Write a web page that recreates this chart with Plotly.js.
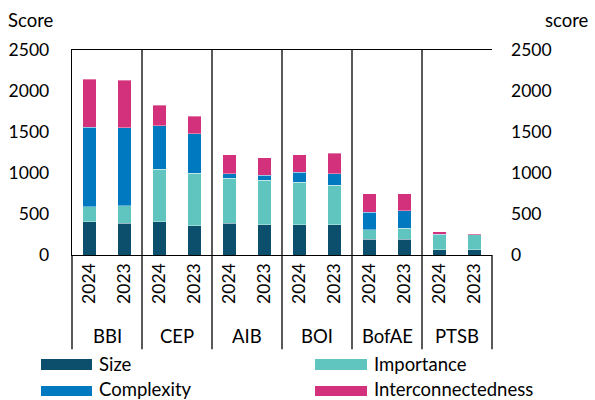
<!DOCTYPE html>
<html>
<head>
<meta charset="utf-8">
<script src="https://cdn.plot.ly/plotly-3.0.1.min.js"></script>
<style>html,body{margin:0;padding:0;background:#fff;}#chart{width:595px;height:400px;}</style>
</head>
<body>
<div id="chart"></div>
<script>
const groups = ["BBI", "CEP", "AIB", "BOI", "BofAE", "PTSB"];
const years = ["2024", "2023"];
const seriesNames = ["Size", "Importance", "Complexity", "Interconnectedness"];
const size = [406, 387, 408, 359, 387, 371, 371, 371, 191, 191, 65, 65];
const importance = [183, 216, 636, 636, 547, 542, 514, 477, 119, 135, 183, 180];
const complexity = [967, 947, 530, 481, 57, 58, 126, 143, 211, 213, 8, 5];
const interconnectedness = [590, 580, 250, 217, 233, 216, 213, 249, 229, 211, 29, 11];
const yTicks = [0, 500, 1000, 1500, 2000, 2500];
const colors = ["#0b4f6c", "#60c5bf", "#0079c1", "#d3317b"];

const seriesValues = [size, importance, complexity, interconnectedness];
const xLabels = [];
groups.forEach(() => years.forEach(y => xLabels.push(y)));
const xPos = xLabels.map((_, i) => i);

const FONT = "Lato, 'Open Sans', sans-serif";
const TXT = 18.5;
const TICK = 17.5;
const traces = seriesValues.map((vals, k) => ({
  type: "bar",
  x: xPos,
  y: vals,
  name: seriesNames[k],
  marker: {color: colors[k], line: {width: 0.6, color: "rgba(255,255,255,0.6)"}},
  width: 0.39,
  showlegend: false,
  hoverinfo: "y+name"
}));
// invisible trace to activate right axis
traces.push({type: "scatter", x: [xPos[0]], y: [0], yaxis: "y2", mode: "markers",
  marker: {opacity: 0}, showlegend: false, hoverinfo: "skip"});

const shapes = [];
const annotations = [];
const lowY = -0.46;
// outer edges extended below
[0, 1].forEach(px => shapes.push({type: "line", xref: "paper", yref: "paper",
  x0: px, x1: px, y0: lowY, y1: 0, line: {color: "#000", width: 1.3}}));
// group separators
for (let g = 1; g < groups.length; g++) {
  const xs = g * years.length - 0.5;
  shapes.push({type: "line", xref: "x", yref: "paper", x0: xs, x1: xs, y0: lowY, y1: 1,
    line: {color: "#000", width: 1.3}});
}
groups.forEach((g, i) => annotations.push({xref: "x", yref: "paper",
  x: i * years.length + (years.length - 1) / 2, y: -0.395, text: g, showarrow: false,
  font: {family: FONT, size: TXT, color: "#000"}, xanchor: "center", yanchor: "middle"}));

// titles
annotations.push({xref: "paper", yref: "paper", x: -0.157, y: 1.145, text: "Score", showarrow: false,
  xanchor: "left", yanchor: "middle", font: {family: FONT, size: TXT, color: "#000"}});
annotations.push({xref: "paper", yref: "paper", x: 1.235, y: 1.145, text: "score", showarrow: false,
  xanchor: "right", yanchor: "middle", font: {family: FONT, size: TXT, color: "#000"}});

// legend (custom, two columns)
const legX = [[-0.0738, 0.0476, 0.0607], [0.5786, 0.7024, 0.714]];
const legY = [[-0.5073, -0.561, -0.534], [-0.639, -0.688, -0.652]];
const legRow = [0, 0, 1, 1];
const legCol = [0, 1, 0, 1];
seriesNames.forEach((nm, k) => {
  const c = legX[legCol[k]];
  const r = legY[legRow[k]];
  shapes.push({type: "rect", xref: "paper", yref: "paper", x0: c[0], x1: c[1], y0: r[1], y1: r[0],
    fillcolor: colors[k], line: {width: 0}});
  annotations.push({xref: "paper", yref: "paper", x: c[2], y: r[2], text: nm, showarrow: false,
    xanchor: "left", yanchor: "middle", font: {family: FONT, size: TXT, color: "#000"}});
});

const layout = {
  width: 595, height: 400,
  margin: {l: 72, r: 103, t: 50, b: 145, pad: 0},
  paper_bgcolor: "#fff", plot_bgcolor: "#fff",
  barmode: "stack",
  font: {family: FONT, size: TICK, color: "#000"},
  xaxis: {range: [-0.5, xLabels.length - 0.5], tickvals: xPos, ticktext: xLabels,
    tickangle: -90, showgrid: false, zeroline: false, showline: true, mirror: true,
    linecolor: "#000", linewidth: 1.3, ticks: "", fixedrange: true,
    tickfont: {family: FONT, size: TICK, color: "#000"}},
  yaxis: {range: [0, 2500], tickvals: yTicks, showgrid: false, zeroline: false,
    showline: true, linecolor: "#000", linewidth: 1.3, ticks: "", ticklabelstandoff: 18,
    tickfont: {family: FONT, size: TICK, color: "#000"}},
  yaxis2: {range: [0, 2500], tickvals: yTicks, overlaying: "y", side: "right",
    showgrid: false, zeroline: false, showline: false, ticks: "", ticklabelstandoff: 18,
    tickfont: {family: FONT, size: TICK, color: "#000"}},
  shapes: shapes,
  annotations: annotations,
  showlegend: false,
  bargap: 0
};

Plotly.newPlot("chart", traces, layout, {displayModeBar: false, staticPlot: true});
</script>
</body>
</html>
